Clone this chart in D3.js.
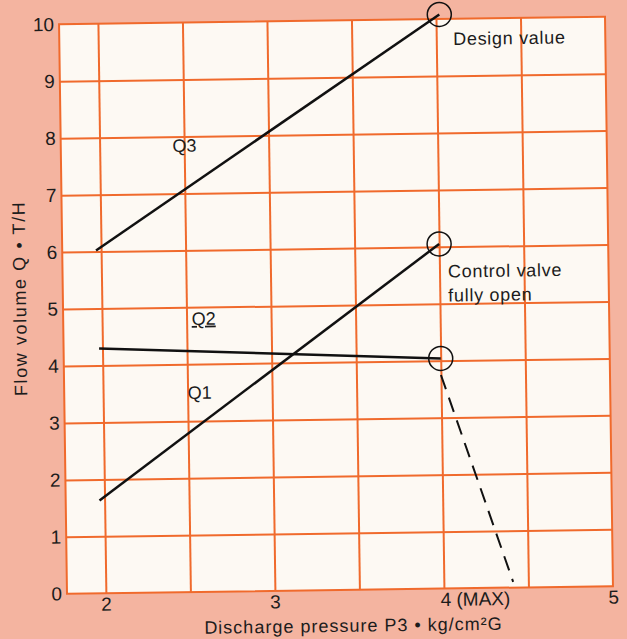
<!DOCTYPE html>
<html>
<head>
<meta charset="utf-8">
<script src="https://cdn.jsdelivr.net/npm/d3@7"></script>
<style>
  html, body { margin: 0; padding: 0; background: #f4b4a0; }
  svg { display: block; }
  text { font-family: "Liberation Sans", Arial, sans-serif; fill: #1c1c1c; }
  .grid line, .grid path { stroke: #f06a2c; stroke-width: 2; }
</style>
</head>
<body>
<svg id="chart" width="627" height="639"></svg>
<script>
// data
var xGrid = [2, 2.5, 3, 3.5, 4, 4.5];
var yGrid = [1, 2, 3, 4, 5, 6, 7, 8, 9];
var xTicks = [2, 3, 4, 5];
var xTickLabels = ["2", "3", "4 (MAX)", "5"];
var yTicks = [0, 1, 2, 3, 4, 5, 6, 7, 8, 9, 10];

var q1 = [[1.97, 1.63], [4.0, 6.05]];
var q2 = [[1.98, 4.3], [4.0, 4.04]];
var q3 = [[1.97, 6.02], [4.02, 10.08]];
var beyondMax = [[4.0, 3.75], [4.41, 0.1]];
var markers = [[4.02, 10.08], [4.0, 6.05], [4.0, 4.04]];

var lineLabels = [
    {text: "Q3", x: 2.43, y: 7.73, underline: false},
    {text: "Q2", x: 2.53, y: 4.69, underline: true},
    {text: "Q1", x: 2.5, y: 3.39, underline: false}
];
var notes = [
    {lines: ["Design value"], x: 4.1, y: 9.54},
    {lines: ["Control valve", "fully open"], x: 4.05, y: 5.46}
];

var svg = d3.select("#chart");
var root = svg.append('g')
    // the scanned page sits a little askew
    .attr('transform', "rotate(-0.8, 336, 305)");

var x = d3.scaleLinear().domain([1.77, 5]).range([63, 609]);
var y = d3.scaleLinear().domain([0, 10]).range([590, 20.5]);

root.append('rect')
    .attr('x', x(1.77)).attr('y', y(10))
    .attr('width', x(5) - x(1.77)).attr('height', y(0) - y(10))
    .attr('fill', "#fdf9f3")
    .attr('stroke', "#f06a2c").attr('stroke-width', 2);

// grid
root.append('g')
    .attr('class', "grid")
    .attr('transform', "translate(0," + y(0) + ")")
    .call(d3.axisBottom(x).tickValues(xGrid).tickSize(-(y(0) - y(10))).tickFormat(""))
    .call(function (g) { g.select('.domain').remove(); });
root.append('g')
    .attr('class', "grid")
    .attr('transform', "translate(" + x(1.77) + ",0)")
    .call(d3.axisLeft(y).tickValues(yGrid).tickSize(-(x(5) - x(1.77))).tickFormat(""))
    .call(function (g) { g.select('.domain').remove(); });

// tick labels
var yAxis = root.append('g')
    .attr('transform', "translate(" + x(1.77) + ",0)")
    .call(d3.axisLeft(y).tickValues(yTicks).tickSize(0).tickPadding(5).tickFormat(d3.format("d")));
yAxis.select('.domain').remove();
yAxis.selectAll('text').style('font-size', "19px").attr('fill', "#1c1c1c");

var xAxis = root.append('g')
    .attr('transform', "translate(0," + y(0) + ")")
    .call(d3.axisBottom(x).tickValues(xTicks).tickSize(0).tickPadding(4)
          .tickFormat(function (d, i) { return xTickLabels[i]; }));
xAxis.select('.domain').remove();
xAxis.selectAll('text').style('font-size', "19px").attr('fill', "#1c1c1c")
    .filter(function (d) { return d === 4; })
    .attr('text-anchor', "start").attr('dx', -4);

// axis titles
root.append('text')
    .text("Flow volume Q \u2022 T/H")
    .attr('transform', "translate(26, 294) rotate(-90)")
    .attr('text-anchor', "middle")
    .style('font-size', "18px").style('letter-spacing', "1.6px");
root.append('text')
    .text("Discharge pressure P3 \u2022 kg/cm\u00b2G")
    .attr('x', 349).attr('y', 632)
    .attr('text-anchor', "middle")
    .style('font-size', "18px").style('letter-spacing', "1px");

// lines
var line = d3.line().x(function (d) { return x(d[0]); }).y(function (d) { return y(d[1]); });
[q1, q2, q3].forEach(function (pts) {
    root.append('path')
        .attr('d', line(pts))
        .attr('fill', "none").attr('stroke', "#111").attr('stroke-width', 2.5);
});
root.append('path')
    .attr('d', line(beyondMax))
    .attr('fill', "none").attr('stroke', "#111").attr('stroke-width', 2)
    .attr('stroke-dasharray', "15,9");

root.selectAll('circle.marker').data(markers).enter()
    .append('circle')
    .attr('class', "marker")
    .attr('cx', function (d) { return x(d[0]); })
    .attr('cy', function (d) { return y(d[1]); })
    .attr('r', 12)
    .attr('fill', "none").attr('stroke', "#111").attr('stroke-width', 1.5);

// labels
root.selectAll('text.qlabel').data(lineLabels).enter()
    .append('text')
    .attr('class', "qlabel")
    .attr('x', function (d) { return x(d.x); })
    .attr('y', function (d) { return y(d.y); })
    .style('font-size', "18px")
    .style('text-decoration', function (d) { return d.underline ? "underline" : null; })
    .text(function (d) { return d.text; });

notes.forEach(function (n) {
    var t = root.append('text')
        .attr('x', x(n.x)).attr('y', y(n.y))
        .style('font-size', "18px").style('letter-spacing', "0.7px");
    n.lines.forEach(function (s, i) {
        t.append('tspan').attr('x', x(n.x)).attr('dy', i ? 24 : 0).text(s);
    });
});
</script>
</body>
</html>
